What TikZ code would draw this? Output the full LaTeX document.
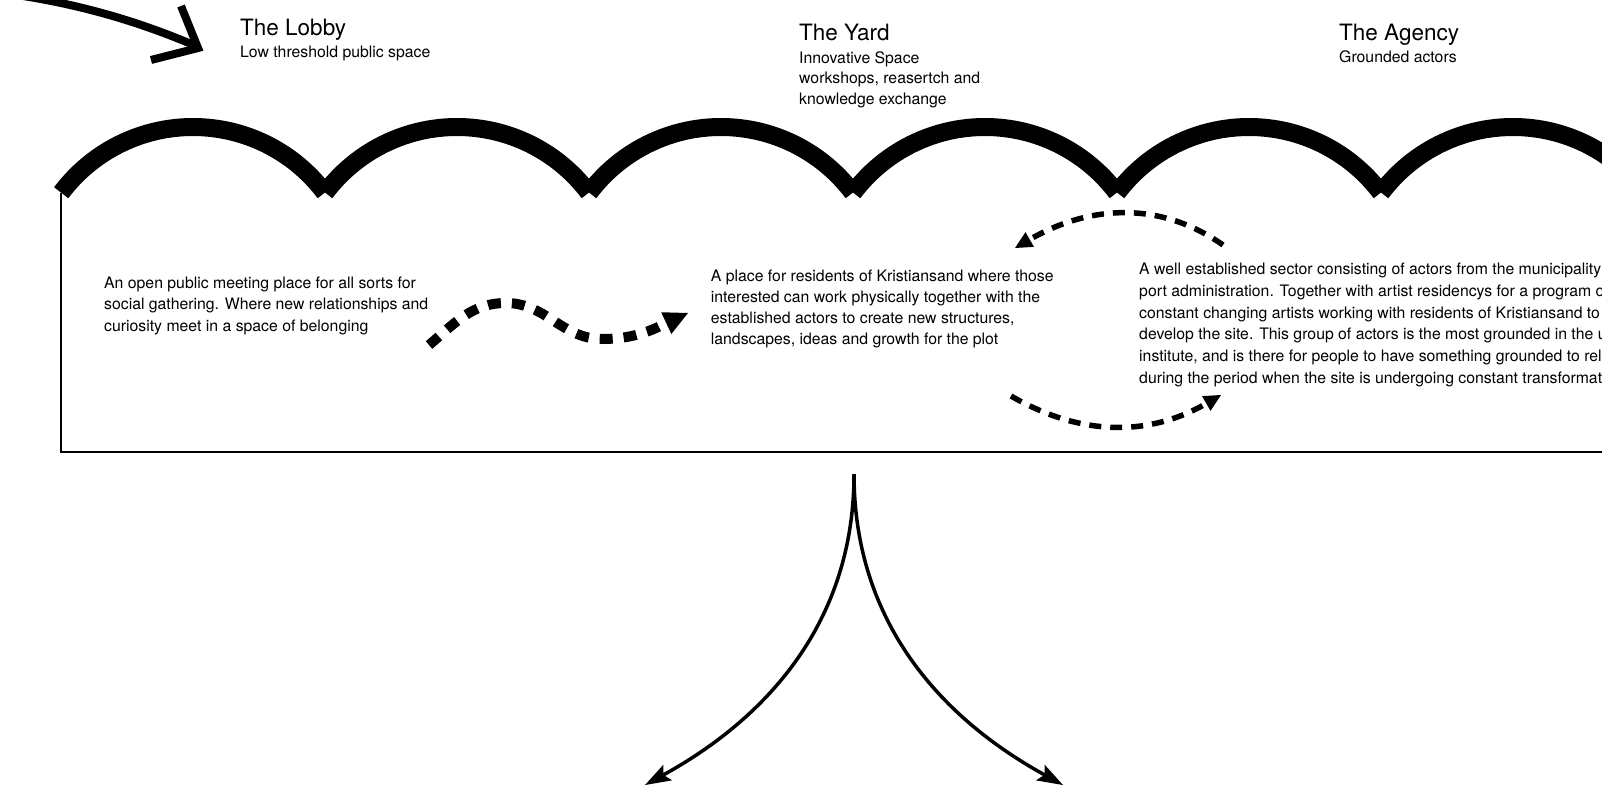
\documentclass[tikz,border=0pt]{standalone}
\usepackage{fontspec}
\setmainfont{TeX Gyre Heros}
\usetikzlibrary{arrows.meta}
\begin{document}
\begin{tikzpicture}[x=1pt,y=1pt,
  title/.style={anchor=base west,inner sep=0pt,font=\fontsize{22.5}{27}\selectfont},
  sub/.style={anchor=base west,inner sep=0pt,align=left,font=\fontsize{15.8}{20.5}\selectfont},
  body/.style={anchor=base west,inner sep=0pt,align=left,font=\fontsize{15.8}{21.5}\selectfont},
  scallop/.style={line width=18pt,line cap=butt},
  frame/.style={line width=2.7pt},
  bigarrow/.style={line width=8pt},
  dotarrow/.style={line width=10pt,dash pattern=on 13pt off 11pt,
    -{Triangle[length=24pt,width=24pt,line width=0pt]}},
  dasharrow/.style={line width=5.5pt,dash pattern=on 12pt off 9pt,
    -{Triangle[length=17pt,width=17pt,line width=0pt]}},
  split/.style={line width=3.5pt,-{Stealth[length=26pt,width=18pt,inset=5pt,line width=0pt]}},
]
\useasboundingbox (0,0) rectangle (1602,-787);
\clip (0,0) rectangle (1602,-787);

% scallops
\foreach \cx in {193,457,721,985,1249,1513}
  \draw[scallop] (\cx-131.8,-192.7) arc[start angle=143,end angle=37,radius=165];

% frame
\coordinate (boxtl) at (61,-193);
\coordinate (boxbl) at (61,-452);
\coordinate (boxbr) at (1620,-452);
\draw[frame] (boxtl) -- (boxbl) -- (boxbr);

% top-left arrow
\coordinate (ta) at (10,6);
\coordinate (tb) at (196,-46);
\coordinate (tbar1) at (181,-6);
\coordinate (ttip) at (198,-48);
\coordinate (tbar2) at (151,-60);
\draw[bigarrow] (ta) .. controls (80,-4) and (140,-22) .. (tb);
\draw[bigarrow,miter limit=10] (tbar1) -- (ttip) -- (tbar2);

% titles (multi-line nodes are placed by the baseline of their last line)
\node[title] (lobby) at (240,-35.7) {The Lobby};
\node[sub] (lobbysub) at (240,-57.3) {Low threshold public space};
\node[title] (yard) at (799,-40) {The Yard};
\node[sub] (yardsub) at (799,-104.3) {Innovative Space\\workshops, reasertch and\\knowledge exchange};
\node[title] (agency) at (1339,-40) {The Agency};
\node[sub] (agencysub) at (1339,-62.7) {Grounded actors};

% body texts
\node[body] (lobbytxt) at (104,-331) {An open public meeting place for all sorts for\\social gathering. Where new relationships and\\curiosity meet in a space of belonging};
\node[body,font=\fontsize{15.8}{20.9}\selectfont] (yardtxt) at (710.7,-344.4) {A place for residents of Kristiansand where those\\interested can work physically together with the\\established actors to create new structures,\\landscapes, ideas and growth for the plot};
\node[body,font=\fontsize{15.8}{21.7}\selectfont] (agencytxt) at (1139,-383.1) {A well established sector consisting of actors from the municipality\\port administration. Together with artist residencys for a program of\\constant changing artists working with residents of Kristiansand to\\develop the site. This group of actors is the most grounded in the urban\\institute, and is there for people to have something grounded to rely\\during the period when the site is undergoing constant transformation};

% wavy dotted arrow
\coordinate (w0) at (429,-345);
\coordinate (w1) at (506,-303);
\coordinate (w2) at (602,-339);
\coordinate (w3) at (688,-313);
\draw[dotarrow] (w0) to[out=40,in=180] (w1) to[out=0,in=180] (w2) to[out=0,in=205] (w3);

% dashed arcs
\coordinate (ua) at (1223,-245);
\coordinate (ub) at (1015,-248);
\draw[dasharrow] (ua) to[out=145,in=30] (ub);
\coordinate (la) at (1011,-396);
\coordinate (lb) at (1221,-395);
\draw[dasharrow] (la) to[out=-30,in=210] (lb);

% split arrows
\coordinate (stop) at (854,-474);
\coordinate (sleft) at (645,-785);
\coordinate (sright) at (1063,-785);
\draw[split] (stop) .. controls (854,-640) and (745,-730) .. (sleft);
\draw[split] (stop) .. controls (854,-640) and (963,-730) .. (sright);
\end{tikzpicture}
\end{document}
